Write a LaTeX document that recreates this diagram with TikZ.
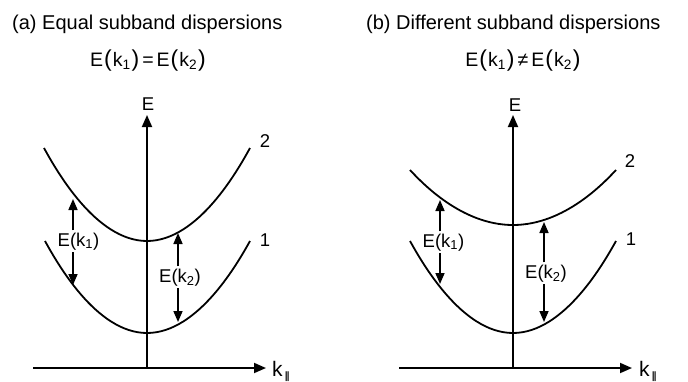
\documentclass[tikz,border=0pt]{standalone}
\usepackage{fontspec}
\setmainfont{Liberation Sans}
\newfontfamily\djb{DejaVu Sans}
\usetikzlibrary{arrows.meta}
\newcommand{\bigpar}[1]{{\fontsize{23}{23}\selectfont #1}}
\newcommand{\parsub}{\kern2pt\raisebox{-3pt}{\djb\bfseries\fontsize{10}{10}\selectfont ∥}}
\begin{document}
\begin{tikzpicture}[x=1pt,y=-1pt,
  curve/.style={line width=1.8pt},
  axis/.style={line width=1.8pt,-{Triangle[length=12pt,width=10pt]}},
  gaparrow/.style={line width=1.6pt,-{Triangle[length=11pt,width=9pt]}},
  lab/.style={font=\fontsize{18.5}{20}\selectfont,inner sep=2pt,anchor=base},
  klab/.style={font=\fontsize{21}{22}\selectfont,inner sep=0pt,anchor=base west},
  ttl/.style={font=\fontsize{20}{24}\selectfont,inner sep=0pt,anchor=base west},
  eqn/.style={font=\fontsize{19.5}{24}\selectfont,inner sep=0pt,anchor=base}]
\useasboundingbox (0,0) rectangle (688,381);

% ---------- panel (a)
\node[ttl] (ta) at (12,29) {(a) Equal subband dispersions};
\node[eqn] (ea) at (148,66) {E\kern1pt\bigpar{(}\kern1pt k\textsubscript{1}\kern1pt\bigpar{)}\kern3pt=\kern3pt E\kern1pt\bigpar{(}\kern1pt k\textsubscript{2}\kern1pt\bigpar{)}};
\coordinate (aO) at (147,368);
\coordinate (aL) at (33,368);
\coordinate (aR) at (266,368);
\coordinate (aT) at (147,115);
\draw[line width=1.8pt] (aL) -- (aO);
\draw[axis] (aO) -- (aR);
\draw[axis] (aO) -- (aT);
\node[lab] (aE) at (148,110) {E};
\node[klab] (ak) at (272,376) {k\parsub};
\draw[curve] (44,148) parabola bend (147,241) (250,148);
\draw[curve] (45,241) parabola bend (147,333) (250,241);
\node[lab] (a2) at (265,147) {2};
\node[lab] (a1) at (265,246) {1};
% E(k1)
\coordinate (a1t) at (73,199);
\coordinate (a1b) at (73,285);
\node[lab] (ak1) at (78.5,246) {E(k\textsubscript{1})};
\draw[gaparrow] (ak1.north -| a1t) -- (a1t);
\draw[gaparrow] (ak1.south -| a1b) -- (a1b);
% E(k2)
\coordinate (a2t) at (178,233);
\coordinate (a2b) at (178,322);
\node[lab] (ak2) at (180,282) {E(k\textsubscript{2})};
\draw[gaparrow] (ak2.north -| a2t) -- (a2t);
\draw[gaparrow] (ak2.south -| a2b) -- (a2b);

% ---------- panel (b)
\node[ttl] (tb) at (366,29) {(b) Different subband dispersions};
\node[eqn] (eb) at (523,66) {E\kern1pt\bigpar{(}\kern1pt k\textsubscript{1}\kern1pt\bigpar{)}\kern3pt≠\kern3pt E\kern1pt\bigpar{(}\kern1pt k\textsubscript{2}\kern1pt\bigpar{)}};
\coordinate (bO) at (513,368);
\coordinate (bL) at (399,368);
\coordinate (bR) at (632,368);
\coordinate (bT) at (513,115);
\draw[line width=1.8pt] (bL) -- (bO);
\draw[axis] (bO) -- (bR);
\draw[axis] (bO) -- (bT);
\node[lab] (bE) at (515,111) {E};
\node[klab] (bk) at (639,376) {k\parsub};
\draw[curve] (410,170) parabola bend (513,225) (616,170);
\draw[curve] (410,241) parabola bend (513,333) (616,241);
\node[lab] (b2) at (630,167) {2};
\node[lab] (b1) at (631,245) {1};
% E(k1)
\coordinate (b1t) at (440,200);
\coordinate (b1b) at (440,284);
\node[lab] (bk1) at (443.5,247) {E(k\textsubscript{1})};
\draw[gaparrow] (bk1.north -| b1t) -- (b1t);
\draw[gaparrow] (bk1.south -| b1b) -- (b1b);
% E(k2)
\coordinate (b2t) at (544,222);
\coordinate (b2b) at (544,322);
\node[lab] (bk2) at (546,278) {E(k\textsubscript{2})};
\draw[gaparrow] (bk2.north -| b2t) -- (b2t);
\draw[gaparrow] (bk2.south -| b2b) -- (b2b);
\end{tikzpicture}
\end{document}
